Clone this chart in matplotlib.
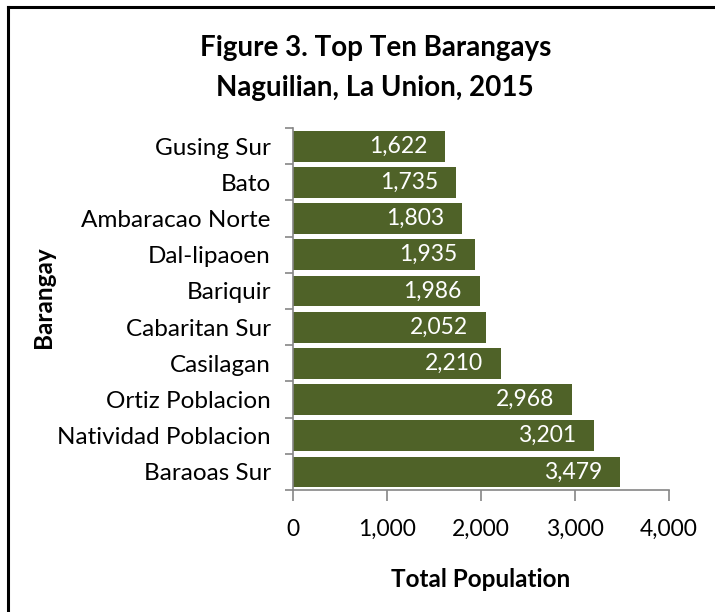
import matplotlib
matplotlib.use("Agg")
import matplotlib.pyplot as plt
from matplotlib.lines import Line2D

barangays = ["Baraoas Sur", "Natividad Poblacion", "Ortiz Poblacion", "Casilagan",
             "Cabaritan Sur", "Bariquir", "Dal-lipaoen", "Ambaracao Norte", "Bato", "Gusing Sur"]
population = [3479, 3201, 2968, 2210, 2052, 1986, 1935, 1803, 1735, 1622]
xticks = [0, 1000, 2000, 3000, 4000]

plt.rcParams["font.family"] = ["Lato", "DejaVu Sans"]

fig = plt.figure(figsize=(7.15, 6.12), dpi=100)
ax = fig.add_axes([0.4098, 0.1993, 0.5259, 0.5915])

y = list(range(len(barangays)))
bars = ax.barh(y, population, height=0.85, color="#4F6228")
for b, v in zip(bars, population):
    ax.text(v - 18 * 4000 / 376, b.get_y() + b.get_height() / 2, f"{v:,}",
            ha="right", va="center", color="white", fontsize=16.5)

ax.set_ylim(-0.5, len(barangays) - 0.5)
ax.set_xlim(0, 4000)
ax.set_yticks(y)
ax.set_yticklabels(barangays, fontsize=17.5)
ax.set_xticks(xticks)
ax.set_xticklabels([f"{t:,}" for t in xticks], fontsize=16.5)
# category boundary ticks like Excel
ax.set_yticks([i - 0.5 for i in range(len(barangays) + 1)], minor=True)
ax.tick_params(axis="y", which="major", length=0, pad=16)
ax.tick_params(axis="y", which="minor", length=6, color="#868686", width=1.2)
ax.tick_params(axis="x", length=8, color="#868686", width=1.2, pad=13)

for s in ["top", "right"]:
    ax.spines[s].set_visible(False)
for s in ["left", "bottom"]:
    ax.spines[s].set_color("#868686")
    ax.spines[s].set_linewidth(1.2)

ax.set_xlabel("Total Population", fontsize=17.5, fontweight="bold", labelpad=20)
fig.text(0.061, 0.515, "Barangay", rotation=90, fontsize=17.5, fontweight="bold",
         ha="center", va="center")

fig.text(0.525, 0.922, "Figure 3. Top Ten Barangays", fontsize=20, fontweight="bold",
         ha="center", va="center")
fig.text(0.524, 0.856, "Naguilian, La Union, 2015", fontsize=20, fontweight="bold",
         ha="center", va="center")

# partial frame (left and top edges)
fig.add_artist(Line2D([8 / 715, 8 / 715], [0, 1 - 7 / 612], color="black", lw=2.2,
                      transform=fig.transFigure))
fig.add_artist(Line2D([8 / 715, 1], [1 - 7 / 612, 1 - 7 / 612], color="black", lw=2.2,
                      transform=fig.transFigure))

fig.savefig("out.png", dpi=100)
